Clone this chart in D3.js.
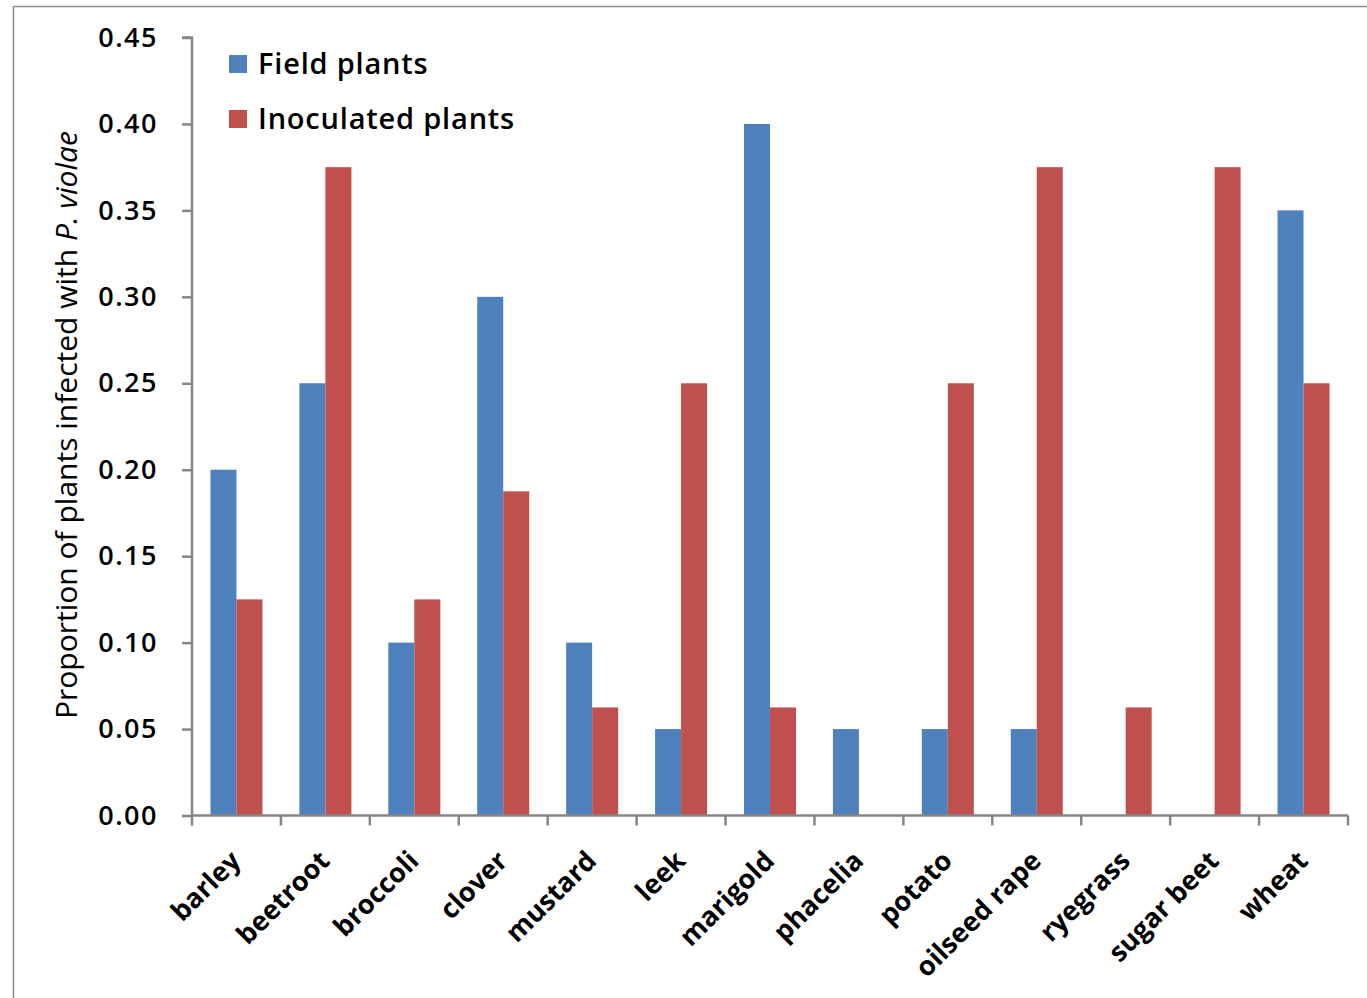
<!DOCTYPE html>
<html>
<head>
<meta charset="utf-8">
<script src="https://cdn.jsdelivr.net/npm/d3@7"></script>
<style>
  html, body { margin: 0; padding: 0; background: #fff; }
  svg { display: block; }
  text { font-family: "Open Sans", Lato, sans-serif; fill: #000; }
</style>
</head>
<body>
<svg id="chart" width="1367" height="998"></svg>
<script>
// Crops tested and proportion of plants infected with P. violae
const crops = ["barley", "beetroot", "broccoli", "clover", "mustard", "leek", "marigold",
               "phacelia", "potato", "oilseed rape", "ryegrass", "sugar beet", "wheat"];
const fieldPlants = [0.20, 0.25, 0.10, 0.30, 0.10, 0.05, 0.40, 0.05, 0.05, 0.05, 0.00, 0.00, 0.35];
const inoculatedPlants = [0.125, 0.375, 0.125, 0.1875, 0.0625, 0.25, 0.0625, 0.00, 0.25, 0.375, 0.0625, 0.375, 0.25];
const seriesNames = ["Field plants", "Inoculated plants"];
const seriesColors = ["#4F81BD", "#C0504D"];
const yTicks = [0, 0.05, 0.10, 0.15, 0.20, 0.25, 0.30, 0.35, 0.40, 0.45];

const svg = d3.select("#chart");
const axisColor = "#868686";

// outer chart frame
svg.append("rect")
  .attr("x", 13.5).attr("y", 6.5)
  .attr("width", 1400).attr("height", 1100)
  .attr("fill", "none").attr("stroke", "#8c8c8c").attr("stroke-width", 1.5);

const plot = { left: 192, right: 1348, top: 37.5, bottom: 815.5 };

const x = d3.scaleBand().domain(crops).range([plot.left, plot.right]).paddingInner(0).paddingOuter(0);
const inner = d3.scaleBand().domain(seriesNames).range([0, x.bandwidth()]).paddingInner(0).paddingOuter(0.71);
const y = d3.scaleLinear().domain([0, 0.45]).range([plot.bottom, plot.top]);

const rows = crops.map((c, i) => ({ crop: c, values: [fieldPlants[i], inoculatedPlants[i]] }));

// bars
const groups = svg.append("g").selectAll("g").data(rows).join("g")
  .attr("transform", d => `translate(${x(d.crop)},0)`);
groups.selectAll("rect")
  .data(d => d.values.map((v, k) => ({ series: seriesNames[k], value: v, color: seriesColors[k] })))
  .join("rect")
  .attr("x", d => inner(d.series))
  .attr("width", inner.bandwidth())
  .attr("y", d => y(d.value))
  .attr("height", d => y(0) - y(d.value))
  .attr("fill", d => d.color);

// y axis
const yAxis = svg.append("g")
  .attr("transform", `translate(${plot.left},0)`)
  .call(d3.axisLeft(y).tickValues(yTicks).tickFormat(d3.format(".2f")).tickSize(10).tickPadding(24));
yAxis.select(".domain").attr("stroke", axisColor).attr("stroke-width", 2.5)
  .attr("d", `M-10,${plot.top}H0V${plot.bottom}`);
yAxis.selectAll(".tick line").attr("stroke", axisColor).attr("stroke-width", 2.5);
yAxis.selectAll(".tick text")
  .style("font-size", "27px").style("font-weight", "600")
  .style("letter-spacing", "1.5px").attr("fill", "#000");

// x axis with boundary ticks between categories
const xAxis = svg.append("g").attr("transform", `translate(0,${plot.bottom})`);
xAxis.append("path")
  .attr("d", `M${plot.left},0H${plot.right}`)
  .attr("stroke", axisColor).attr("stroke-width", 2.5).attr("fill", "none");
const boundaries = crops.map(c => x(c)).concat([x(crops[crops.length - 1]) + x.bandwidth()]);
xAxis.selectAll("line.tick").data(boundaries).join("line")
  .attr("class", "tick")
  .attr("x1", d => d).attr("x2", d => d)
  .attr("y1", 0).attr("y2", 10)
  .attr("stroke", axisColor).attr("stroke-width", 2.5);
xAxis.selectAll("text").data(crops).join("text")
  .attr("transform", d => `translate(${x(d) + x.bandwidth() / 2 + 6},${47}) rotate(-45)`)
  .attr("text-anchor", "end")
  .style("font-size", "27px").style("font-weight", "bold")
  .text(d => d);

// y axis title
const yTitle = svg.append("text")
  .attr("transform", `translate(77,${425}) rotate(-90)`)
  .attr("text-anchor", "middle")
  .style("font-size", "30px");
yTitle.append("tspan").text("Proportion of plants infected with ");
yTitle.append("tspan").style("font-style", "italic").text("P. violae");

// legend
const legend = svg.append("g").attr("transform", "translate(229,55)");
const items = legend.selectAll("g").data(seriesNames).join("g")
  .attr("transform", (d, i) => `translate(0,${i * 55})`);
items.append("rect").attr("width", 18).attr("height", 18)
  .attr("fill", (d, i) => seriesColors[i]);
items.append("text").attr("x", 29).attr("y", 19)
  .style("font-size", "29px").style("font-weight", "600")
  .style("letter-spacing", "0.8px")
  .text(d => d);
</script>
</body>
</html>
